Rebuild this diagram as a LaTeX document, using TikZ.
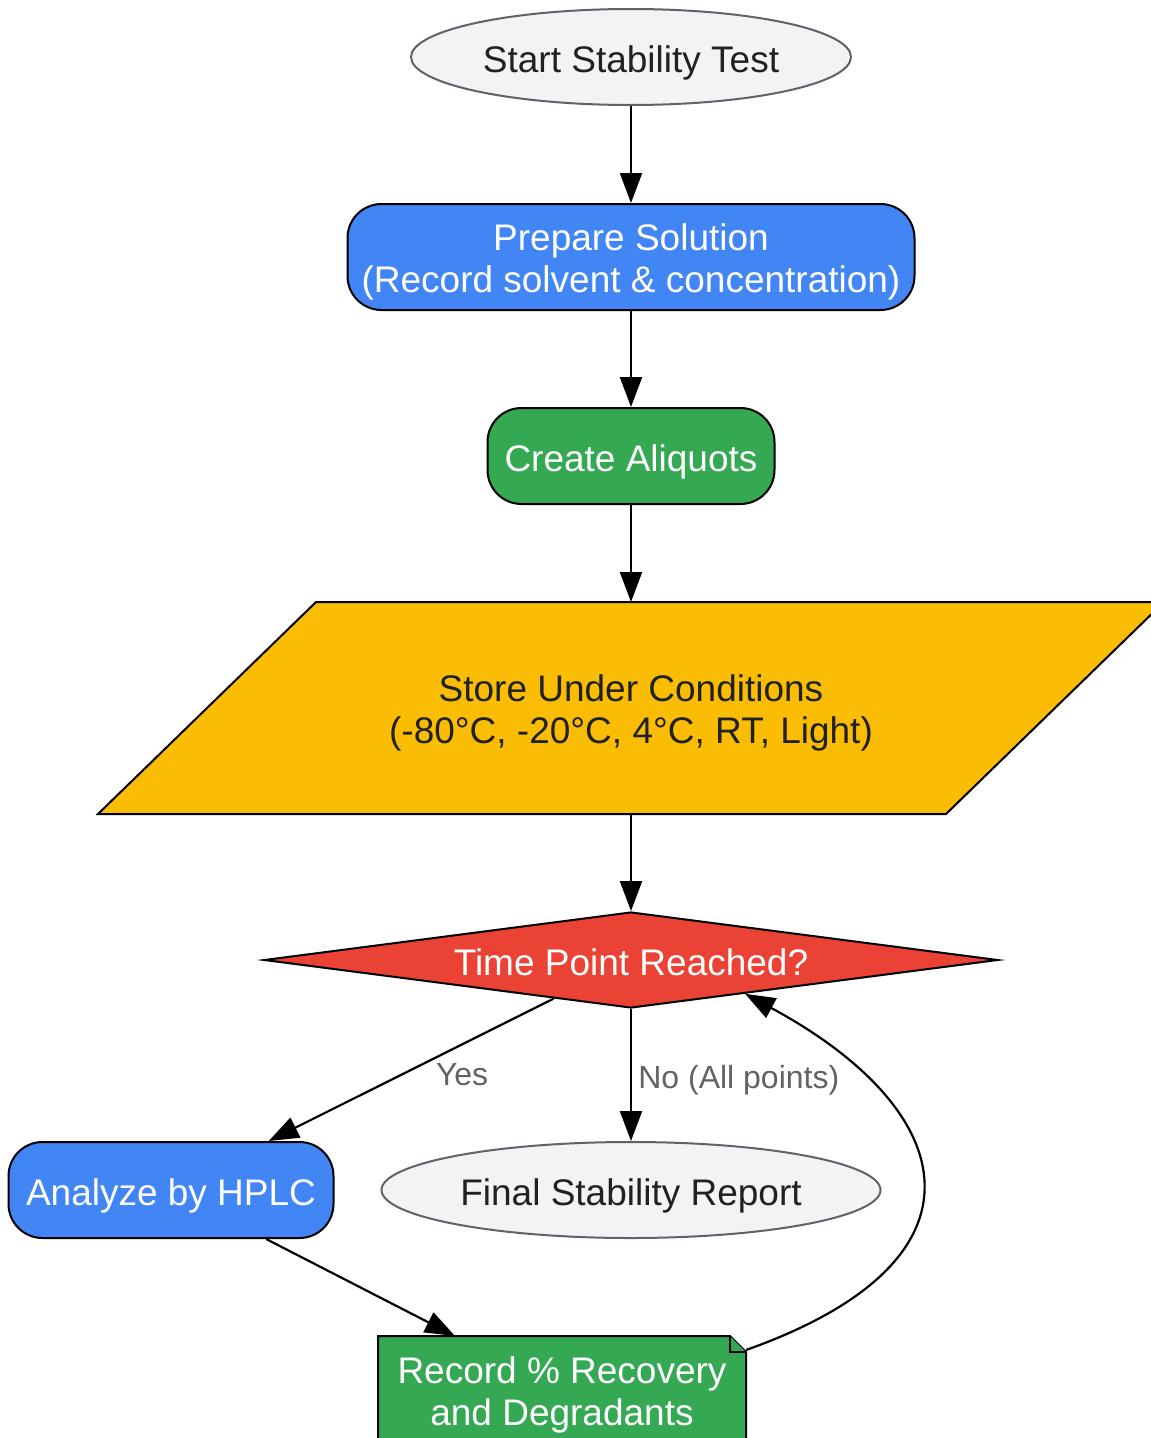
\documentclass[tikz,border=0pt]{standalone}
\usepackage{fontspec}
\setmainfont{Liberation Sans}
\usetikzlibrary{shapes.geometric,arrows.meta,calc,backgrounds}
\definecolor{gbg}{HTML}{F1F3F4}
\definecolor{gline}{HTML}{5F6368}
\definecolor{dtext}{HTML}{202124}
\definecolor{gblue}{HTML}{4285F4}
\definecolor{ggreen}{HTML}{34A853}
\definecolor{gyellow}{HTML}{FBBC04}
\definecolor{gred}{HTML}{EA4335}

\begin{document}
\begin{tikzpicture}[x=1pt,y=-1pt,
  every node/.style={font=\fontsize{37}{42}\selectfont, align=center, line width=2pt},
  one/.style={text height=31pt, text depth=0pt},
  two/.style={text height=71pt, text depth=0pt},
  term/.style={ellipse, one, draw=gline, fill=gbg, text=dtext, minimum height=96pt, inner sep=0pt},
  box/.style={rectangle, rounded corners=34pt, draw=black, text=white, inner sep=0pt, minimum height=96pt},
  lbl/.style={font=\fontsize{32}{36}\selectfont, text=gline, yshift=-5pt},
  arr/.style={line width=2.2pt, -{Triangle[length=30pt,width=22pt]}}]
\useasboundingbox (0,0) rectangle (1151,1438);
\node[term, minimum width=440pt] (start) at (631,57) {Start Stability Test};
\node[box, two, fill=gblue, minimum width=567pt, minimum height=106pt] (prep) at (631,257) {Prepare Solution\\(Record solvent \& concentration)};
\node[box, one, fill=ggreen, minimum width=287pt] (aliq) at (631,456) {Create Aliquots};
\node[two, text=dtext, minimum width=628pt, minimum height=210pt, inner sep=0pt] (store) at (631,708) {Store Under Conditions\\(-80°C, -20°C, 4°C, RT, Light)};
\node[diamond, aspect=7.6, one, draw=black, fill=gred, text=white, inner sep=0pt,
  minimum width=734pt, minimum height=96pt] (dec) at (631,960) {Time Point Reached?};
\node[box, one, fill=gblue, minimum width=325pt] (hplc) at (171,1190) {Analyze by HPLC};
\node[term, minimum width=499pt] (final) at (631,1190) {Final Stability Report};
\node[two, text height=68pt, text=white, minimum width=366pt, minimum height=108pt, inner sep=0pt] (rec) at (562,1391) {Record \% Recovery\\and Degradants};
\begin{scope}[on background layer]
\draw[line width=2pt, fill=gyellow] ([xshift=-218pt]store.south west) -- (store.north west)
  -- ([xshift=218pt]store.north east) -- (store.south east) -- cycle;
\draw[line width=2pt, fill=ggreen] (rec.south west) -- (rec.north west) -- ([xshift=-16pt]rec.north east)
  -- ([yshift=-16pt]rec.north east) -- (rec.south east) -- cycle;
\draw[line width=2pt, fill=ggreen] ([xshift=-16pt]rec.north east) -- ([xshift=-16pt,yshift=-16pt]rec.north east)
  -- ([yshift=-16pt]rec.north east);
\end{scope}
\draw[arr] (start) -- (prep);
\draw[arr] (prep) -- (aliq);
\draw[arr] (aliq) -- (store);
\draw[arr] (store) -- (dec);
\draw[arr] (dec) -- node[lbl, xshift=51pt] {Yes} (hplc);
\draw[arr] (dec) -- node[lbl, right, xshift=3pt] {No (All points)} (final);
\draw[arr] (hplc) -- (rec);
\draw[arr] ([yshift=-14pt]rec.north east) .. controls (1000,1260) and (960,1110) .. ($(dec.south)!0.31!(dec.east)$);
\end{tikzpicture}
\end{document}
